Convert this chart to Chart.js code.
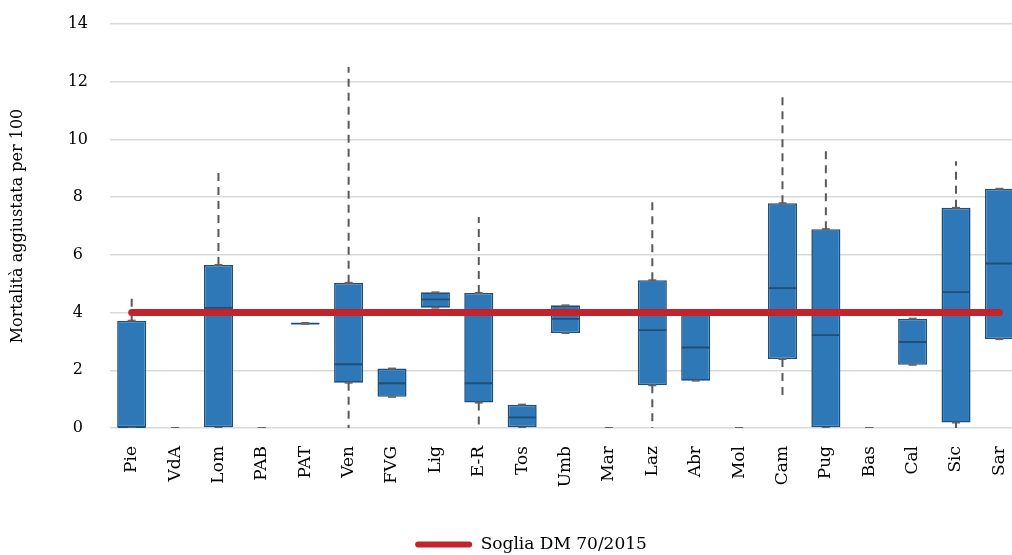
<!DOCTYPE html>
<html>
<head>
<meta charset="utf-8">
<script src="https://cdn.jsdelivr.net/npm/chart.js@4/dist/chart.umd.min.js"></script>
<style>
  html, body { margin: 0; padding: 0; background: #ffffff; overflow: hidden; width: 1012px; height: 555px; }
  #wrap { width: 1030px; height: 555px; }
</style>
</head>
<body>
<div id="wrap"><canvas id="c" width="1030" height="555"></canvas></div>
<script>
// ---- Data ----
const categories = ['Pie','VdA','Lom','PAB','PAT','Ven','FVG','Lig','E-R','Tos','Umb','Mar','Laz','Abr','Mol','Cam','Pug','Bas','Cal','Sic','Sar'];
const minVals = [0, 0, 0, 0, 3.61, 0, 1.08, 4.17, 0, 0, 3.29, 0, 0, 1.64, 0, 1.00, 0, 0, 2.19, 0, 3.08];
const q1Vals  = [0, 0, 0, 0, 3.61, 1.57, 1.08, 4.17, 0.88, 0, 3.29, 0, 1.48, 1.64, 0, 2.39, 0, 0, 2.19, 0.19, 3.08];
const medVals = [0, 0, 4.16, 0, 3.62, 2.21, 1.55, 4.46, 1.55, 0.37, 3.78, 0, 3.39, 2.79, 0, 4.85, 3.22, 0, 2.98, 4.71, 5.70];
const q3Vals  = [3.72, 0, 5.65, 0, 3.64, 5.03, 2.06, 4.70, 4.68, 0.81, 4.25, 0, 5.12, 3.97, 0, 7.79, 6.89, 0, 3.79, 7.63, 8.29];
const maxVals = [4.55, 0, 8.86, 0, 3.64, 12.51, 2.06, 4.70, 7.31, 0.81, 4.25, 0, 7.83, 3.97, 0, 11.59, 9.65, 0, 3.79, 9.24, 8.29];
const thresholdVals = [4,4,4,4,4,4,4,4,4,4,4,4,4,4,4,4,4,4,4,4,4];
const yTicks = [0, 2, 4, 6, 8, 10, 12, 14];
const yTitle = 'Mortalità aggiustata per 100';
const thresholdLabel = 'Soglia DM 70/2015';

// ---- Build library datasets from the arrays ----
// boxes with no spread (all values 0) have no visible box
const hasBox = (i) => q3Vals[i] > q1Vals[i] || q3Vals[i] !== 0;
const boxes = categories.map((c, i) => hasBox(i) ? [q1Vals[i], q3Vals[i]] : null);
const medianPts = categories.map((c, i) => ({x: c, y: hasBox(i) ? medVals[i] : null}));

const whiskerPts = [];
categories.forEach((c, i) => {
  if (maxVals[i] > q3Vals[i]) {
    whiskerPts.push({x: c, y: q3Vals[i]}, {x: c, y: maxVals[i]}, {x: c, y: null});
  }
  if (minVals[i] < q1Vals[i]) {
    whiskerPts.push({x: c, y: q1Vals[i]}, {x: c, y: minVals[i]}, {x: c, y: null});
  }
});
const capPts = [];
categories.forEach((c, i) => {
  capPts.push({x: c, y: q3Vals[i]});
  capPts.push({x: c, y: q1Vals[i]});
});

const SERIF = '"DejaVu Serif", "Liberation Serif", serif';
const boxFill = '#2E78B8';
const boxBorder = '#1F4E79';
const red = '#C3232B';

const legendShift = {
  id: 'legendShift',
  afterLayout(chart) {
    const l = chart.legend;
    if (l) { l.left += 20; l.right += 20; l.top += 8; l.bottom += 8; }
  }
};

new Chart(document.getElementById('c'), {
  type: 'bar',
  plugins: [legendShift],
  data: {
    labels: categories,
    datasets: [
      {
        type: 'line', label: thresholdLabel, data: thresholdVals,
        borderColor: red, backgroundColor: red, borderWidth: 7,
        borderCapStyle: 'round', pointRadius: 0, order: 0
      },
      {
        type: 'line', label: 'whiskers', data: whiskerPts,
        borderColor: '#595959', borderWidth: 2, borderDash: [8, 6],
        pointRadius: 0, spanGaps: false, order: 1
      },
      {
        type: 'line', label: 'caps', data: capPts, showLine: false,
        pointStyle: 'line', pointRadius: 4, pointBorderWidth: 2,
        pointBorderColor: '#666666', borderColor: '#666666', order: 1
      },
      {
        type: 'line', label: 'median', data: medianPts, showLine: false,
        pointStyle: 'line', pointRadius: 14, pointBorderWidth: 1.8,
        pointBorderColor: boxBorder, borderColor: boxBorder, order: 1
      },
      {
        label: 'box', data: boxes,
        backgroundColor: boxFill, borderColor: boxBorder,
        borderWidth: 1.6, inflateAmount: 0,
        borderSkipped: false, categoryPercentage: 1, barPercentage: 0.67, order: 2
      }
    ]
  },
  options: {
    responsive: false,
    animation: false,
    devicePixelRatio: 1,
    layout: { autoPadding: false, padding: { top: 24, right: 8, left: 0, bottom: 0 } },
    plugins: {
      tooltip: { enabled: false },
      legend: {
        position: 'bottom',
        labels: {
          filter: (item) => item.text === thresholdLabel,
          generateLabels: (chart) => {
            const items = Chart.defaults.plugins.legend.labels.generateLabels(chart);
            items.forEach(it => { it.lineWidth = 0; it.strokeStyle = red; it.fillStyle = red; });
            return items;
          },
          font: { family: SERIF, size: 17 },
          color: '#000000',
          boxWidth: 57, boxHeight: 6,
          useBorderRadius: true, borderRadius: 3,
          padding: 0
        }
      }
    },
    scales: {
      x: {
        grid: { display: false },
        border: { display: false },
        ticks: {
          minRotation: 90, maxRotation: 90, padding: 10, autoSkip: false,
          font: { family: SERIF, size: 17 }, color: '#000000'
        },
        afterFit: (s) => { s.height = 100; }
      },
      y: {
        min: 0, max: 14,
        afterBuildTicks: (s) => { s.ticks = yTicks.map(v => ({value: v})); },
        grid: { color: '#D9D9D9', lineWidth: 1.5, drawTicks: true, tickLength: 20, tickColor: 'rgba(0,0,0,0)' },
        border: { display: false },
        ticks: { font: { family: SERIF, size: 16 }, color: '#000000', padding: 2, crossAlign: 'center' },
        title: {
          display: true, text: yTitle,
          font: { family: SERIF, size: 16 }, color: '#000000',
          padding: { top: 8, bottom: 0 }
        },
        afterFit: (s) => { s.width = 110; }
      }
    }
  }
});
</script>
</body>
</html>
